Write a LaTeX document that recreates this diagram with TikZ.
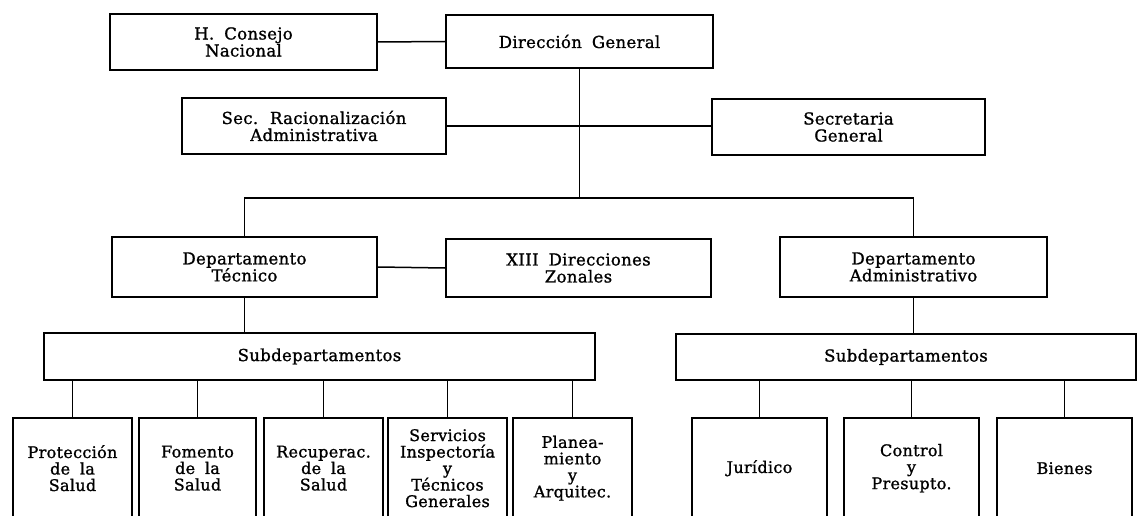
\documentclass[tikz,border=0pt]{standalone}
\usepackage{fontspec}
\setmainfont{DejaVu Serif}[WordSpace=1.8,LetterSpace=2,FakeBold=1.2]
\begin{document}
\begin{tikzpicture}[x=1pt,y=-1pt,
  txt/.style={font=\fontsize{16.5}{17}\selectfont},
  box/.style={draw,line width=1.8pt,align=center,inner sep=0pt,txt},
  kid/.style={align=center,inner sep=0pt,anchor=north,font=\fontsize{16}{16.5}\selectfont},
  kidline/.style={line width=1.8pt},
  conn/.style={line width=1.5pt}]
\useasboundingbox (0,0) rectangle (1139,516);
\coordinate (bottom) at (0,516);
% top level
\node[box,minimum width=267,minimum height=56] (hc) at (243.5,42) {H. Consejo\\Nacional};
\node[box,minimum width=267,minimum height=53] (dg) at (579.5,41.5) {Dirección General};
\node[box,minimum width=264,minimum height=56] (sr) at (314,126) {Sec. Racionalización\\Administrativa};
\node[box,minimum width=273,minimum height=56] (sg) at (848.5,127) {Secretaria\\General};
\node[box,minimum width=265,minimum height=60] (dt) at (244.5,267) {Departamento\\Técnico};
\node[box,minimum width=265,minimum height=58] (xz) at (578.5,268) {XIII Direcciones\\Zonales};
\node[box,minimum width=267,minimum height=60] (da) at (913.5,267) {Departamento\\Administrativo};
\node[box,minimum width=551,minimum height=47] (sl) at (319.5,356.5) {Subdepartamentos};
\node[box,minimum width=460,minimum height=46] (sd) at (906,357) {Subdepartamentos};
\coordinate (bar) at (579.5,198);
% children
\node[kid,minimum width=119,minimum height=100] (p1) at (72.5,418) {Protección\\de la\\Salud};
\node[kid,minimum width=117,minimum height=100] (p2) at (197.5,418) {Fomento\\de la\\Salud};
\node[kid,minimum width=119,minimum height=100] (p3) at (323.5,418) {Recuperac.\\de la\\Salud};
\node[kid,minimum width=119,minimum height=100] (p4) at (447.5,418) {Servicios\\Inspectoría\\y\\Técnicos\\Generales};
\node[kid,minimum width=119,minimum height=100] (p5) at (572.5,418) {Planea-\\miento\\y\\Arquitec.};
\node[kid,minimum width=135,minimum height=100] (r1) at (759.5,418) {Jurídico};
\node[kid,minimum width=135,minimum height=100] (r2) at (911.5,418) {Control\\y\\Presupto.};
\node[kid,minimum width=135,minimum height=100] (r3) at (1064.5,418) {Bienes};
\foreach \k in {p1,p2,p3,p4,p5,r1,r2,r3}{
  \draw[kidline] (\k.north west |- bottom) -- (\k.north west) -- (\k.north east) -- (\k.north east |- bottom);
}
% connectors
\draw[conn] (hc.east) -- (dg.west);
\draw[conn] (dg.south) -- (bar);
\draw[conn] (sr.east) -- (sr.east -| sg.west);
\draw[conn] (dt.north) -- (dt.north |- bar) -- (da.north |- bar) -- (da.north);
\draw[conn] (dt.east) -- (xz.west);
\draw[conn] (dt.south) -- (dt.south |- sl.north);
\draw[conn] (da.south) -- (da.south |- sd.north);
\foreach \k in {p1,p2,p3,p4,p5}{ \draw[conn] (\k.north) -- (\k.north |- sl.south); }
\foreach \k in {r1,r2,r3}{ \draw[conn] (\k.north) -- (\k.north |- sd.south); }
\end{tikzpicture}
\end{document}
